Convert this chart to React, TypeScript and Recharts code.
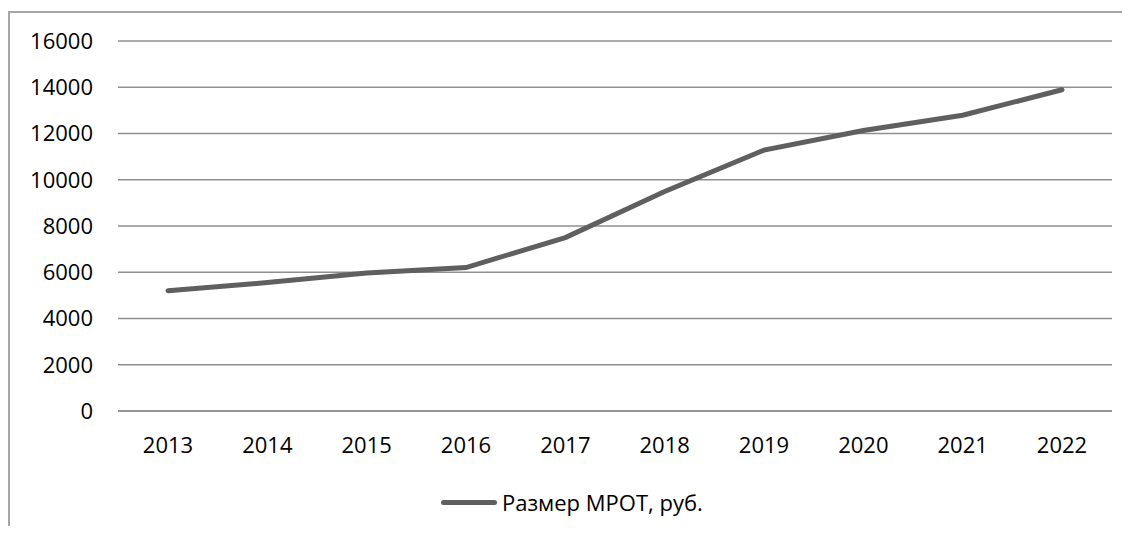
import { LineChart, Line, XAxis, YAxis, CartesianGrid, Legend } from "recharts";

const years = ["2013", "2014", "2015", "2016", "2017", "2018", "2019", "2020", "2021", "2022"];
const mrot = [5205, 5554, 5965, 6204, 7500, 9489, 11280, 12130, 12792, 13890];
const yTicks = [0, 2000, 4000, 6000, 8000, 10000, 12000, 14000, 16000];
const seriesName = "Размер МРОТ, руб.";

const data = years.map((y, i) => ({ year: y, value: mrot[i] }));

const FONT = "'Open Sans', sans-serif";

function LegendBox() {
  return (
    <div
      style={{
        position: "absolute",
        left: 441,
        top: 487,
        display: "flex",
        alignItems: "center",
        whiteSpace: "nowrap",
        fontFamily: FONT,
        fontSize: 22,
        color: "#000",
      }}
    >
      <span
        style={{
          display: "inline-block",
          width: 56,
          height: 5,
          borderRadius: 3,
          background: "#5f5f5f",
          marginRight: 5,
        }}
      />
      <span>{seriesName}</span>
    </div>
  );
}

export default function App() {
  return (
    <div style={{ margin: -8, width: 1130, height: 534, position: "relative", overflow: "hidden", background: "#fff" }}>
      <div
        style={{
          position: "absolute",
          left: 8,
          top: 11,
          width: 1200,
          height: 600,
          border: "2px solid #a6a6a6",
          boxSizing: "border-box",
        }}
      />
      <LineChart
        width={1130}
        height={534}
        data={data}
        margin={{ top: 41, right: 18, left: 0, bottom: 73 }}
        style={{ position: "absolute", left: 0, top: 0 }}
      >
        <CartesianGrid vertical={false} stroke="#8f8f8f" strokeWidth={1.5} />
        <XAxis
          dataKey="year"
          axisLine={{ stroke: "#8f8f8f", strokeWidth: 1.5 }}
          tickLine={false}
          tickSize={0}
          tickMargin={26}
          height={50}
          interval={0}
          padding={{ left: 50, right: 50 }}
          tick={{ fill: "#000", fontSize: 22, fontFamily: FONT }}
        />
        <YAxis
          width={118}
          domain={[0, 16000]}
          ticks={yTicks}
          axisLine={false}
          tickLine={false}
          tickSize={0}
          tickMargin={25}
          interval={0}
          tick={{ fill: "#000", fontSize: 22, fontFamily: FONT }}
        />
        <Legend content={() => <LegendBox />} wrapperStyle={{ position: "absolute", left: 0, top: 0, width: 1130, height: 0 }} />
        <Line
          type="linear"
          dataKey="value"
          name={seriesName}
          stroke="#5f5f5f"
          strokeWidth={5}
          strokeLinecap="round"
          dot={false}
          activeDot={false}
          isAnimationActive={false}
        />
      </LineChart>
    </div>
  );
}
